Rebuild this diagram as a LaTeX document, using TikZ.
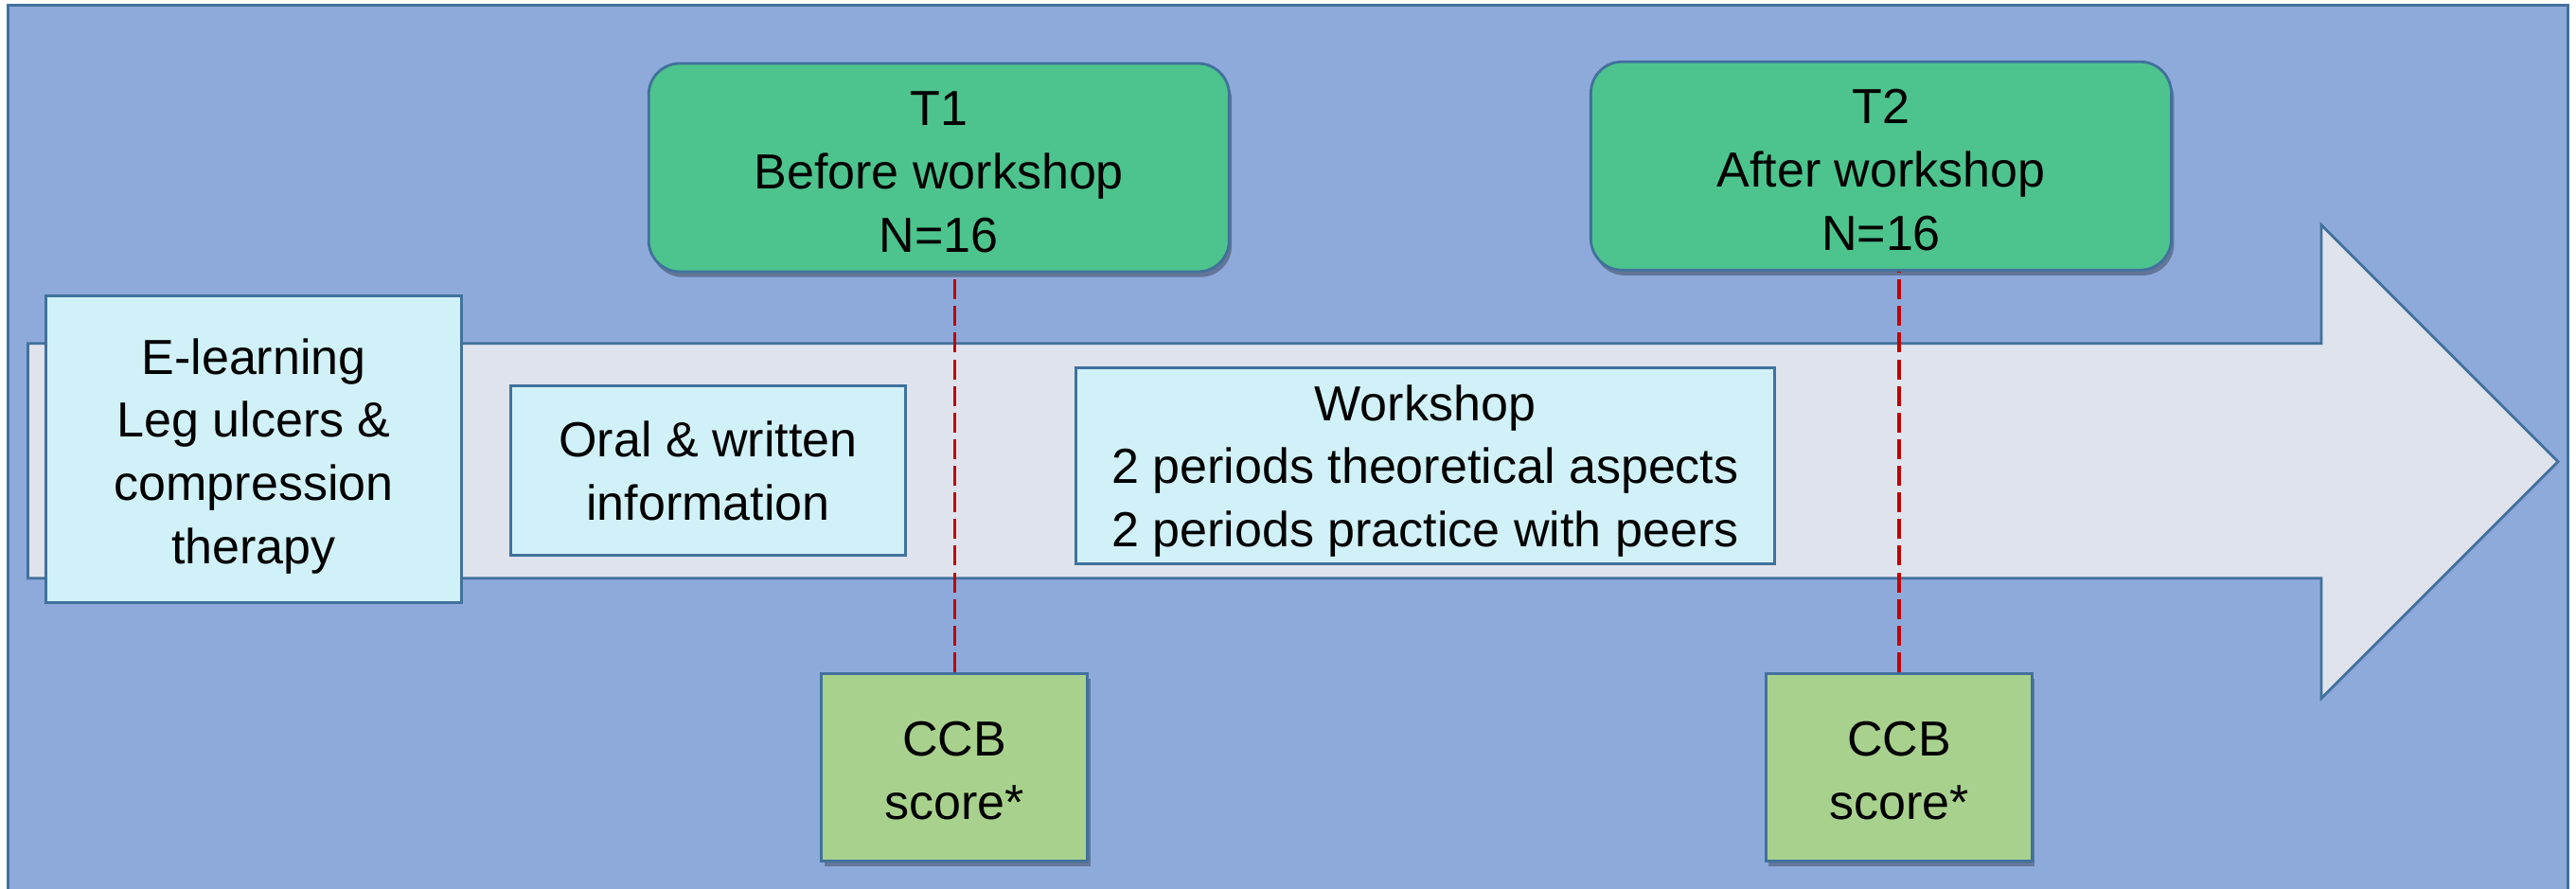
\documentclass[tikz,border=0pt]{standalone}
\usepackage{fontspec}
\setmainfont{Liberation Sans}
\usetikzlibrary{shadows}
\definecolor{bgblue}{HTML}{8EAADB}
\definecolor{edgeblue}{HTML}{41719C}
\definecolor{arrowfill}{HTML}{DFE3EC}
\definecolor{cyanfill}{HTML}{D1F1F8}
\definecolor{tgreen}{HTML}{4DC48D}
\definecolor{ccbgreen}{HTML}{A9D18E}
\definecolor{dashred}{HTML}{C00000}
\newcommand{\topstrut}[1]{\rule{0pt}{#1}}
\tikzset{
  edge/.style={draw=edgeblue,line width=0.8pt},
  txt/.style={inner sep=0pt,align=center,font=\fontsize{14.8}{19}\selectfont},
  infobox/.style={edge,fill=cyanfill,rectangle,txt},
  timebox/.style={edge,fill=tgreen,rectangle,rounded corners=0.33cm,txt,
    minimum width=6.13cm,minimum height=2.2cm,
    drop shadow={shadow xshift=0.8pt,shadow yshift=-1.6pt,opacity=0.3,fill=black}},
  ccbbox/.style={edge,fill=ccbgreen,rectangle,txt,
    minimum width=2.81cm,minimum height=1.98cm,
    drop shadow={shadow xshift=0.8pt,shadow yshift=-1.6pt,opacity=0.3,fill=black}},
  dashline/.style={draw=dashred,line width=0.9pt,dash pattern=on 6pt off 2pt}
}
\begin{document}
\begin{tikzpicture}[x=0.017353cm,y=-0.017353cm]
\useasboundingbox (0,0) rectangle (1568,541);
\fill[white] (0,0) rectangle (1568,541);
\draw[edge,fill=bgblue] (5,3) rectangle (1563,560);
% big arrow
\draw[edge,fill=arrowfill] (17,209) -- (1413,209) -- (1413,137) -- (1557,281)
  -- (1413,425) -- (1413,352) -- (17,352) -- cycle;
% boxes
\node[infobox,minimum width=4.39cm,minimum height=3.245cm] (elearn) at (154.5,273.5)
  {\topstrut{14.8pt}E-learning\\Leg ulcers \&\\compression\\therapy};
\node[infobox,minimum width=4.165cm,minimum height=1.787cm] (oral) at (431,286.5)
  {Oral \& written\\information};
\node[infobox,minimum width=7.375cm,minimum height=2.065cm] (workshop) at (867.5,283.5)
  {\topstrut{13.8pt}Workshop\\2 periods theoretical aspects\\2 periods practice with peers};
\node[timebox] (t1) at (571.5,102) {\topstrut{12.8pt}T1\\Before workshop\\N=16};
\node[timebox] (t2) at (1145,101) {\topstrut{12.8pt}T2\\After workshop\\N=16};
\node[ccbbox] (ccb1) at (581,467) {\topstrut{12.6pt}CCB\\score*};
\node[ccbbox] (ccb2) at (1156,467) {\topstrut{12.6pt}CCB\\score*};
% dashed connectors
\draw[dashline] (ccb1.north) -- (ccb1.north |- t1.south);
\draw[dashline] (ccb2.north) -- (ccb2.north |- t2.south);
\end{tikzpicture}
\end{document}
